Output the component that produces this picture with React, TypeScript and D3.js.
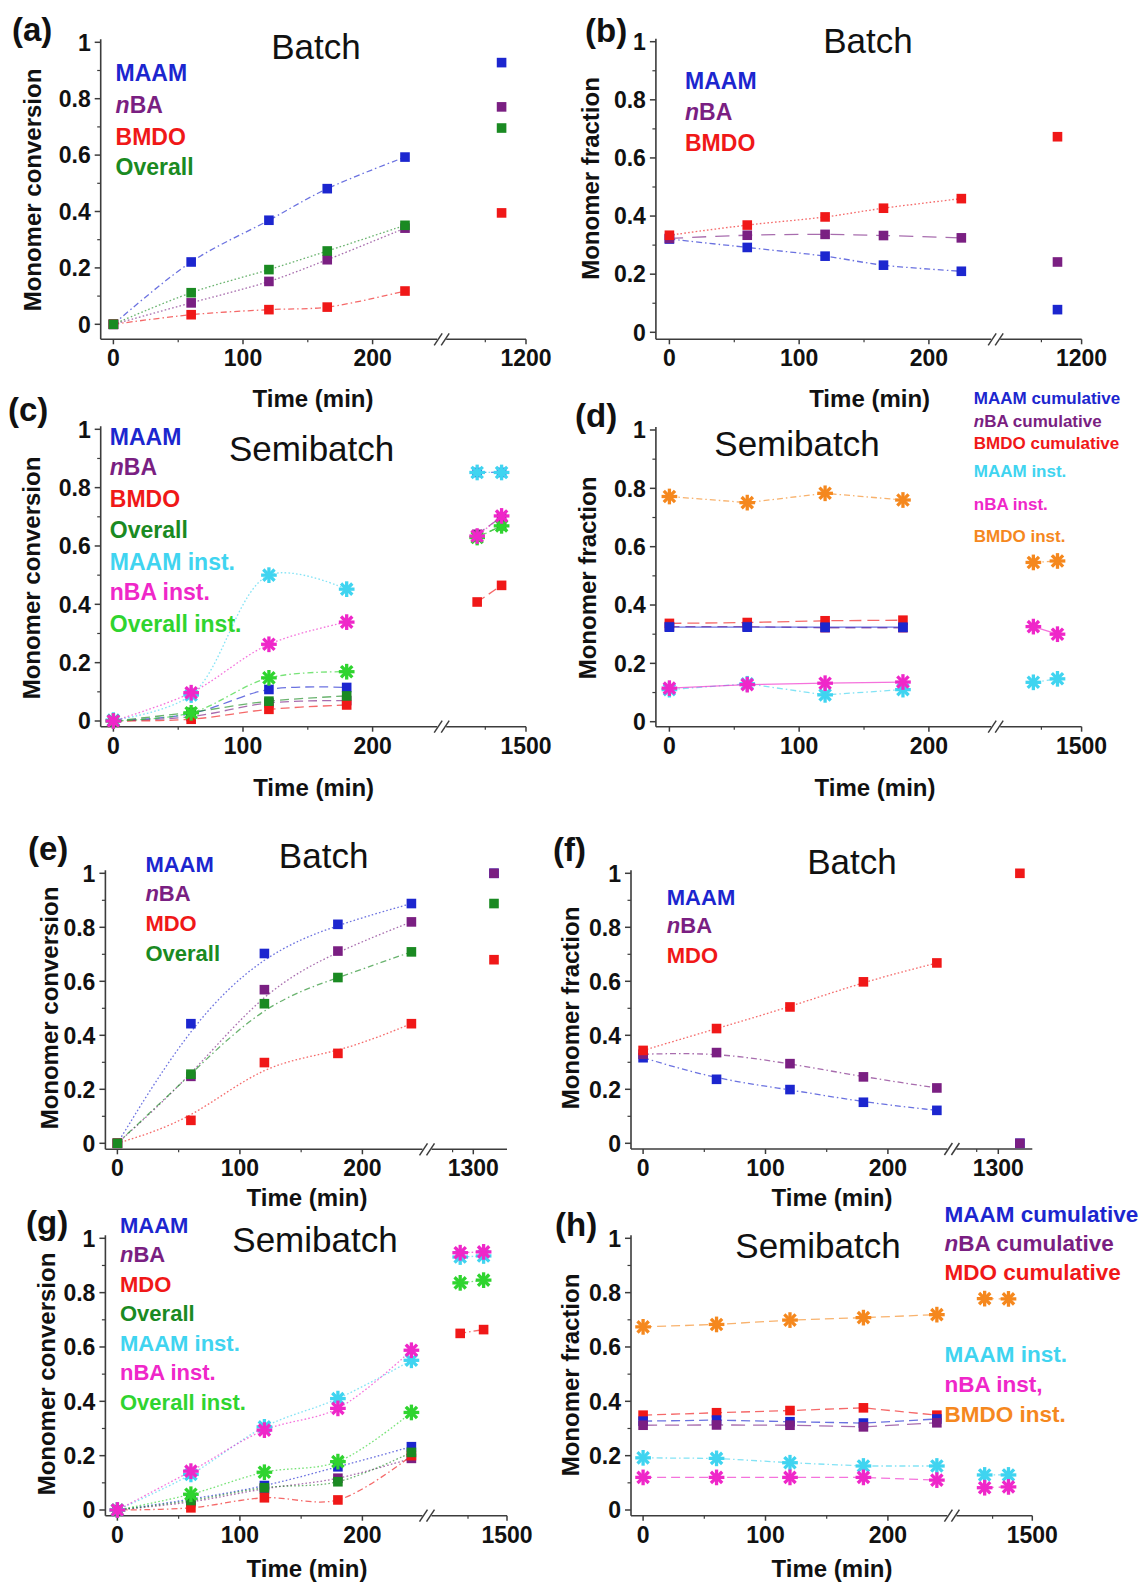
import React from 'react';
import * as d3 from 'd3';

const FONT = "'Liberation Sans', Arial, Helvetica, sans-serif";

const COL = {
  maam: '#1c26cf',
  nba: '#7a1f82',
  bmdo: '#f01818',
  overall: '#1a8a22',
  maamI: '#40d4f0',
  nbaI: '#ef27c9',
  overallI: '#2fd42f',
  bmdoI: '#f5881e',
};

// shared axis ticks
const Y_MAJOR = [0, 0.2, 0.4, 0.6, 0.8, 1];
const Y_MINOR = [0.1, 0.3, 0.5, 0.7, 0.9];
const X_MAJOR = [0, 100, 200];
const X_MINOR = [50, 150];

// (a) batch, conversion, BMDO system
const A_TIME = [0, 60, 120, 165, 225, 1140];
const A_MAAM = [0, 0.221, 0.369, 0.481, 0.593, 0.928];
const A_NBA = [0, 0.076, 0.152, 0.229, 0.341, 0.771];
const A_BMDO = [0, 0.034, 0.052, 0.061, 0.118, 0.395];
const A_OVERALL = [0, 0.112, 0.194, 0.26, 0.351, 0.696];

// (b) batch, fraction, BMDO system
const B_TIME = [0, 60, 120, 165, 225, 1140];
const B_MAAM = [0.321, 0.292, 0.262, 0.231, 0.21, 0.078];
const B_NBA = [0.323, 0.334, 0.337, 0.333, 0.325, 0.242];
const B_BMDO = [0.334, 0.369, 0.397, 0.427, 0.46, 0.673];

// (c) semibatch, conversion, BMDO system
const C_TIME = [0, 60, 120, 180, 1380, 1440];
const C_MAAM = [0, 0.025, 0.108, 0.115, 0.852, 0.852];
const C_NBA = [0, 0.015, 0.062, 0.07, 0.64, 0.7];
const C_BMDO = [0, 0.006, 0.04, 0.055, 0.408, 0.465];
const C_OVERALL = [0, 0.03, 0.068, 0.086, 0.63, 0.669];
const C_MAAM_INST = [0.003, 0.089, 0.5, 0.452, 0.852, 0.852];
const C_NBA_INST = [0, 0.097, 0.263, 0.339, 0.634, 0.703];
const C_OVERALL_INST = [0, 0.028, 0.148, 0.169, 0.629, 0.669];

// (d) semibatch, fraction, BMDO system
const D_TIME = [0, 60, 120, 180, 1380, 1440];
const D_MAAM = [0.324, 0.324, 0.324, 0.324, null, null];
const D_NBA = [0.326, 0.326, 0.322, 0.322, null, null];
const D_BMDO = [0.337, 0.34, 0.346, 0.348, null, null];
const D_MAAM_INST = [0.11, 0.13, 0.092, 0.11, 0.135, 0.147];
const D_NBA_INST = [0.115, 0.127, 0.132, 0.136, 0.326, 0.3];
const D_BMDO_INST = [0.772, 0.751, 0.783, 0.76, 0.546, 0.551];

// (e) batch, conversion, MDO system
const E_TIME = [0, 60, 120, 180, 240, 1350];
const E_MAAM = [0, 0.443, 0.703, 0.811, 0.888, 1.0];
const E_NBA = [0, 0.248, 0.569, 0.712, 0.82, 1.0];
const E_MDO = [0, 0.085, 0.299, 0.333, 0.443, 0.68];
const E_OVERALL = [0, 0.256, 0.517, 0.614, 0.709, 0.888];

// (f) batch, fraction, MDO system
const F_TIME = [0, 60, 120, 180, 240, 1350];
const F_MAAM = [0.317, 0.237, 0.199, 0.152, 0.122, 0];
const F_NBA = [0.33, 0.336, 0.295, 0.246, 0.205, 0];
const F_MDO = [0.344, 0.425, 0.505, 0.598, 0.668, 1.0];

// (g) semibatch, conversion, MDO system
const G_TIME = [0, 60, 120, 180, 240, 1380, 1440];
const G_MAAM = [0, 0.04, 0.09, 0.159, 0.233, null, null];
const G_NBA = [0, 0.03, 0.078, 0.117, 0.19, null, null];
const G_MDO = [0, 0.008, 0.045, 0.037, 0.2, 0.65, 0.664];
const G_OVERALL = [0, 0.035, 0.082, 0.104, 0.212, null, null];
const G_MAAM_INST = [0, 0.131, 0.306, 0.41, 0.551, 0.931, 0.935];
const G_NBA_INST = [0, 0.143, 0.294, 0.374, 0.588, 0.947, 0.95];
const G_OVERALL_INST = [0, 0.058, 0.139, 0.178, 0.359, 0.836, 0.846];

// (h) semibatch, fraction, MDO system
const H_TIME = [0, 60, 120, 180, 240, 1380, 1440];
const H_MAAM = [0.327, 0.331, 0.325, 0.32, 0.335, null, null];
const H_NBA = [0.312, 0.313, 0.312, 0.306, 0.321, null, null];
const H_MDO = [0.349, 0.358, 0.366, 0.376, 0.349, null, null];
const H_MAAM_INST = [0.192, 0.19, 0.174, 0.162, 0.162, 0.129, 0.129];
const H_NBA_INST = [0.12, 0.12, 0.12, 0.12, 0.11, 0.082, 0.085];
const H_BMDO_INST = [0.674, 0.683, 0.699, 0.708, 0.719, 0.778, 0.777];

type Val = number | null;
interface Ser { v: Val[]; c: string; m: 'sq' | 'ast'; dash: string }
interface Leg { t: string; c: string; y: number; italic?: boolean }
interface PanelDef {
  tag: string; tagX: number; tagY: number;
  title: string; titleX: number; titleY: number;
  yLabel: string; yLabelX: number; yLabelY: number;
  xLabelX: number; xLabelY: number;
  axisX: number; yTop: number; yBot: number; axisY: number;
  x0: number; x200: number; breakX: number; endX: number;
  rDom: [number, number]; rPx: [number, number]; rMajor: number[]; rMinor: number[];
  time: number[]; series: Ser[]; curve: d3.CurveFactory;
  legX: number; legSize: number; legend: Leg[];
}

const DOT = '1.6,2.2';
const DASHDOT = '6,3,1.5,3';
const DASH = '9,5';

const PANELS: PanelDef[] = [
  {
    tag: '(a)', tagX: 12, tagY: 41, title: 'Batch', titleX: 316, titleY: 59,
    yLabel: 'Monomer conversion', yLabelX: 41, yLabelY: 190, xLabelX: 313, xLabelY: 407,
    axisX: 100.7, yTop: 42.3, yBot: 324.3, axisY: 339.3, x0: 113.4, x200: 372.6, breakX: 441.7, endX: 526,
    rDom: [1100, 1200], rPx: [485.3, 526], rMajor: [1200], rMinor: [1100],
    time: A_TIME, curve: d3.curveCatmullRom,
    series: [
      { v: A_MAAM, c: COL.maam, m: 'sq', dash: DASHDOT },
      { v: A_NBA, c: COL.nba, m: 'sq', dash: DOT },
      { v: A_BMDO, c: COL.bmdo, m: 'sq', dash: DASHDOT },
      { v: A_OVERALL, c: COL.overall, m: 'sq', dash: DOT },
    ],
    legX: 115.6, legSize: 23,
    legend: [
      { t: 'MAAM', c: COL.maam, y: 81 },
      { t: 'BA', c: COL.nba, y: 113, italic: true },
      { t: 'BMDO', c: COL.bmdo, y: 145 },
      { t: 'Overall', c: COL.overall, y: 175 },
    ],
  },
  {
    tag: '(b)', tagX: 585, tagY: 42, title: 'Batch', titleX: 868, titleY: 53,
    yLabel: 'Monomer fraction', yLabelX: 599, yLabelY: 178.5, xLabelX: 869.6, xLabelY: 407,
    axisX: 655.9, yTop: 41.7, yBot: 332.3, axisY: 339.3, x0: 669.4, x200: 928.9, breakX: 995.7, endX: 1081.6,
    rDom: [1100, 1200], rPx: [1041.4, 1081.6], rMajor: [1200], rMinor: [1100],
    time: B_TIME, curve: d3.curveCatmullRom,
    series: [
      { v: B_MAAM, c: COL.maam, m: 'sq', dash: DASHDOT },
      { v: B_NBA, c: COL.nba, m: 'sq', dash: '14,9' },
      { v: B_BMDO, c: COL.bmdo, m: 'sq', dash: DOT },
    ],
    legX: 685, legSize: 23,
    legend: [
      { t: 'MAAM', c: COL.maam, y: 89 },
      { t: 'BA', c: COL.nba, y: 120, italic: true },
      { t: 'BMDO', c: COL.bmdo, y: 151 },
    ],
  },
  {
    tag: '(c)', tagX: 8, tagY: 421, title: 'Semibatch', titleX: 311.6, titleY: 461,
    yLabel: 'Monomer conversion', yLabelX: 40, yLabelY: 578, xLabelX: 313.6, xLabelY: 796,
    axisX: 100.7, yTop: 429.3, yBot: 721, axisY: 726.7, x0: 113.4, x200: 372.6, breakX: 441.7, endX: 526,
    rDom: [1400, 1500], rPx: [485.3, 526], rMajor: [1500], rMinor: [1400],
    time: C_TIME, curve: d3.curveCatmullRom,
    series: [
      { v: C_MAAM, c: COL.maam, m: 'sq', dash: DASH },
      { v: C_NBA, c: COL.nba, m: 'sq', dash: DASH },
      { v: C_BMDO, c: COL.bmdo, m: 'sq', dash: DASH },
      { v: C_OVERALL, c: COL.overall, m: 'sq', dash: DASH },
      { v: C_MAAM_INST, c: COL.maamI, m: 'ast', dash: DOT },
      { v: C_OVERALL_INST, c: COL.overallI, m: 'ast', dash: DASHDOT },
      { v: C_NBA_INST, c: COL.nbaI, m: 'ast', dash: DOT },
    ],
    legX: 109.8, legSize: 23,
    legend: [
      { t: 'MAAM', c: COL.maam, y: 445 },
      { t: 'BA', c: COL.nba, y: 475, italic: true },
      { t: 'BMDO', c: COL.bmdo, y: 507 },
      { t: 'Overall', c: COL.overall, y: 538 },
      { t: 'MAAM inst.', c: COL.maamI, y: 570 },
      { t: 'nBA inst.', c: COL.nbaI, y: 600 },
      { t: 'Overall inst.', c: COL.overallI, y: 631.7 },
    ],
  },
  {
    tag: '(d)', tagX: 575, tagY: 427, title: 'Semibatch', titleX: 797, titleY: 456,
    yLabel: 'Monomer fraction', yLabelX: 595.5, yLabelY: 578, xLabelX: 875, xLabelY: 796,
    axisX: 655.9, yTop: 430, yBot: 721.7, axisY: 726.7, x0: 669.4, x200: 928.9, breakX: 995.7, endX: 1081.6,
    rDom: [1400, 1500], rPx: [1041.4, 1081.6], rMajor: [1500], rMinor: [1400],
    time: D_TIME, curve: d3.curveLinear,
    series: [
      { v: D_BMDO, c: COL.bmdo, m: 'sq', dash: '12,6' },
      { v: D_NBA, c: COL.nba, m: 'sq', dash: '10,6' },
      { v: D_MAAM, c: COL.maam, m: 'sq', dash: '' },
      { v: D_BMDO_INST, c: COL.bmdoI, m: 'ast', dash: DASHDOT },
      { v: D_MAAM_INST, c: COL.maamI, m: 'ast', dash: DASHDOT },
      { v: D_NBA_INST, c: COL.nbaI, m: 'ast', dash: '' },
    ],
    legX: 973.8, legSize: 17,
    legend: [
      { t: 'MAAM cumulative', c: COL.maam, y: 404 },
      { t: 'BA cumulative', c: COL.nba, y: 426.7, italic: true },
      { t: 'BMDO cumulative', c: COL.bmdo, y: 449 },
      { t: 'MAAM inst.', c: COL.maamI, y: 477 },
      { t: 'nBA inst.', c: COL.nbaI, y: 510 },
      { t: 'BMDO inst.', c: COL.bmdoI, y: 541.7 },
    ],
  },
  {
    tag: '(e)', tagX: 28, tagY: 860, title: 'Batch', titleX: 323.6, titleY: 868,
    yLabel: 'Monomer conversion', yLabelX: 58, yLabelY: 1008, xLabelX: 307, xLabelY: 1206,
    axisX: 105.4, yTop: 873.3, yBot: 1143.3, axisY: 1149.3, x0: 117.4, x200: 362.4, breakX: 427, endX: 507,
    rDom: [1250, 1300], rPx: [452.6, 473.3], rMajor: [1300], rMinor: [1250],
    time: E_TIME, curve: d3.curveBasis,
    series: [
      { v: E_MAAM, c: COL.maam, m: 'sq', dash: DOT },
      { v: E_NBA, c: COL.nba, m: 'sq', dash: DOT },
      { v: E_MDO, c: COL.bmdo, m: 'sq', dash: DOT },
      { v: E_OVERALL, c: COL.overall, m: 'sq', dash: DASHDOT },
    ],
    legX: 145.4, legSize: 22,
    legend: [
      { t: 'MAAM', c: COL.maam, y: 871.7 },
      { t: 'BA', c: COL.nba, y: 901, italic: true },
      { t: 'MDO', c: COL.bmdo, y: 930.7 },
      { t: 'Overall', c: COL.overall, y: 960.7 },
    ],
  },
  {
    tag: '(f)', tagX: 553, tagY: 861, title: 'Batch', titleX: 852, titleY: 874,
    yLabel: 'Monomer fraction', yLabelX: 579, yLabelY: 1008, xLabelX: 832, xLabelY: 1206,
    axisX: 631, yTop: 873.3, yBot: 1143.3, axisY: 1149, x0: 643.1, x200: 887.9, breakX: 951.9, endX: 1032.3,
    rDom: [1250, 1300], rPx: [976.7, 998.3], rMajor: [1300], rMinor: [1250],
    time: F_TIME, curve: d3.curveBasis,
    series: [
      { v: F_MAAM, c: COL.maam, m: 'sq', dash: DASHDOT },
      { v: F_NBA, c: COL.nba, m: 'sq', dash: DASHDOT },
      { v: F_MDO, c: COL.bmdo, m: 'sq', dash: DOT },
    ],
    legX: 666.8, legSize: 22,
    legend: [
      { t: 'MAAM', c: COL.maam, y: 905 },
      { t: 'BA', c: COL.nba, y: 933.3, italic: true },
      { t: 'MDO', c: COL.bmdo, y: 963.3 },
    ],
  },
  {
    tag: '(g)', tagX: 26, tagY: 1234, title: 'Semibatch', titleX: 315, titleY: 1252,
    yLabel: 'Monomer conversion', yLabelX: 54.5, yLabelY: 1374, xLabelX: 307, xLabelY: 1577,
    axisX: 105.4, yTop: 1238.3, yBot: 1510, axisY: 1515.7, x0: 117.4, x200: 362.4, breakX: 427, endX: 507,
    rDom: [1400, 1500], rPx: [468, 507], rMajor: [1500], rMinor: [1400],
    time: G_TIME, curve: d3.curveCatmullRom,
    series: [
      { v: G_MAAM, c: COL.maam, m: 'sq', dash: DOT },
      { v: G_NBA, c: COL.nba, m: 'sq', dash: DOT },
      { v: G_MDO, c: COL.bmdo, m: 'sq', dash: DASHDOT },
      { v: G_OVERALL, c: COL.overall, m: 'sq', dash: DOT },
      { v: G_OVERALL_INST, c: COL.overallI, m: 'ast', dash: DOT },
      { v: G_MAAM_INST, c: COL.maamI, m: 'ast', dash: DOT },
      { v: G_NBA_INST, c: COL.nbaI, m: 'ast', dash: DOT },
    ],
    legX: 120, legSize: 22,
    legend: [
      { t: 'MAAM', c: COL.maam, y: 1232.7 },
      { t: 'BA', c: COL.nba, y: 1261.7, italic: true },
      { t: 'MDO', c: COL.bmdo, y: 1291.7 },
      { t: 'Overall', c: COL.overall, y: 1321 },
      { t: 'MAAM inst.', c: COL.maamI, y: 1351 },
      { t: 'nBA inst.', c: COL.nbaI, y: 1380 },
      { t: 'Overall inst.', c: COL.overallI, y: 1410 },
    ],
  },
  {
    tag: '(h)', tagX: 555, tagY: 1236, title: 'Semibatch', titleX: 818, titleY: 1258,
    yLabel: 'Monomer fraction', yLabelX: 579, yLabelY: 1375, xLabelX: 832, xLabelY: 1577,
    axisX: 631, yTop: 1238.3, yBot: 1510, axisY: 1515.7, x0: 643.1, x200: 887.9, breakX: 951.9, endX: 1032.3,
    rDom: [1400, 1500], rPx: [992.6, 1032.3], rMajor: [1500], rMinor: [1400],
    time: H_TIME, curve: d3.curveLinear,
    series: [
      { v: H_MDO, c: COL.bmdo, m: 'sq', dash: DASH },
      { v: H_MAAM, c: COL.maam, m: 'sq', dash: DASH },
      { v: H_NBA, c: COL.nba, m: 'sq', dash: '14,8' },
      { v: H_BMDO_INST, c: COL.bmdoI, m: 'ast', dash: DASH },
      { v: H_MAAM_INST, c: COL.maamI, m: 'ast', dash: DASHDOT },
      { v: H_NBA_INST, c: COL.nbaI, m: 'ast', dash: DASH },
    ],
    legX: 944.6, legSize: 22.5,
    legend: [
      { t: 'MAAM cumulative', c: COL.maam, y: 1221.7 },
      { t: 'BA cumulative', c: COL.nba, y: 1250.7, italic: true },
      { t: 'MDO cumulative', c: COL.bmdo, y: 1280 },
      { t: 'MAAM inst.', c: COL.maamI, y: 1361.7 },
      { t: 'nBA inst,', c: COL.nbaI, y: 1391.7 },
      { t: 'BMDO inst.', c: COL.bmdoI, y: 1421.7 },
    ],
  },
];

const fmt = d3.format('~g');

function Star({ x, y, c }: { x: number; y: number; c: string }) {
  const r = 6.2;
  const d = r * 0.72;
  return (
    <g stroke={c} strokeWidth={3.3} strokeLinecap="square">
      <line x1={x - r} y1={y} x2={x + r} y2={y} />
      <line x1={x} y1={y - r} x2={x} y2={y + r} />
      <line x1={x - d} y1={y - d} x2={x + d} y2={y + d} />
      <line x1={x - d} y1={y + d} x2={x + d} y2={y - d} />
    </g>
  );
}

function Panel({ p }: { p: PanelDef }) {
  const y = d3.scaleLinear().domain([0, 1]).range([p.yBot, p.yTop]);
  const xl = d3.scaleLinear().domain([0, 200]).range([p.x0, p.x200]);
  const xr = d3.scaleLinear().domain(p.rDom).range(p.rPx);
  const split = 1000;
  const x = (t: number) => (t < split ? xl(t) : xr(t));
  const axisCol = '#3c3c3c';
  const gap = 4.5;
  const mkLine = (curve: d3.CurveFactory) =>
    d3.line<[number, number]>().x((d) => x(d[0])).y((d) => y(d[1])).curve(curve);

  const pts = (s: Ser, right: boolean) =>
    p.time
      .map((t, i) => [t, s.v[i]] as [number, Val])
      .filter(([t, v]) => v != null && (right ? t >= split : t < split)) as [number, number][];

  return (
    <g fontFamily={FONT}>
      {/* axes */}
      <line x1={p.axisX} y1={p.yTop - 3} x2={p.axisX} y2={p.axisY} stroke={axisCol} strokeWidth={1.6} />
      <line x1={p.axisX} y1={p.axisY} x2={p.breakX - gap} y2={p.axisY} stroke={axisCol} strokeWidth={1.6} />
      <line x1={p.breakX + gap} y1={p.axisY} x2={p.endX} y2={p.axisY} stroke={axisCol} strokeWidth={1.6} />
      {[-3.5, 3.5].map((dx) => (
        <line key={dx} x1={p.breakX + dx - 4} y1={p.axisY + 6} x2={p.breakX + dx + 4} y2={p.axisY - 6}
          stroke={axisCol} strokeWidth={1.5} />
      ))}
      {Y_MAJOR.map((v) => (
        <g key={'ym' + v}>
          <line x1={p.axisX - 6} y1={y(v)} x2={p.axisX} y2={y(v)} stroke={axisCol} strokeWidth={1.5} />
          <text x={p.axisX - 10} y={y(v)} dy="0.36em" textAnchor="end" fontSize={23} fontWeight="bold" fill="#111">
            {fmt(v)}
          </text>
        </g>
      ))}
      {Y_MINOR.map((v) => (
        <line key={'yn' + v} x1={p.axisX - 3.5} y1={y(v)} x2={p.axisX} y2={y(v)} stroke={axisCol} strokeWidth={1.2} />
      ))}
      {X_MAJOR.map((t) => (
        <g key={'xm' + t}>
          <line x1={xl(t)} y1={p.axisY} x2={xl(t)} y2={p.axisY + 5} stroke={axisCol} strokeWidth={1.5} />
          <text x={xl(t)} y={p.axisY + 27} textAnchor="middle" fontSize={23} fontWeight="bold" fill="#111">{t}</text>
        </g>
      ))}
      {X_MINOR.map((t) => (
        <line key={'xn' + t} x1={xl(t)} y1={p.axisY} x2={xl(t)} y2={p.axisY + 3} stroke={axisCol} strokeWidth={1.2} />
      ))}
      {p.rMajor.map((t) => (
        <g key={'rm' + t}>
          <line x1={xr(t)} y1={p.axisY} x2={xr(t)} y2={p.axisY + 5} stroke={axisCol} strokeWidth={1.5} />
          <text x={xr(t)} y={p.axisY + 27} textAnchor="middle" fontSize={23} fontWeight="bold" fill="#111">{t}</text>
        </g>
      ))}
      {p.rMinor.map((t) => (
        <line key={'rn' + t} x1={xr(t)} y1={p.axisY} x2={xr(t)} y2={p.axisY + 3} stroke={axisCol} strokeWidth={1.2} />
      ))}

      {/* series lines */}
      {p.series.map((s, i) => {
        const L = pts(s, false);
        const R = pts(s, true);
        return (
          <g key={'l' + i} fill="none" stroke={s.c} strokeWidth={1.3} strokeOpacity={0.65} strokeDasharray={s.dash || undefined}>
            {L.length > 1 && <path d={mkLine(p.curve)(L) || ''} />}
            {R.length > 1 && <path d={mkLine(d3.curveLinear)(R) || ''} />}
          </g>
        );
      })}
      {/* markers */}
      {p.series.map((s, i) =>
        p.time.map((t, j) => {
          const v = s.v[j];
          if (v == null) return null;
          return s.m === 'sq' ? (
            <rect key={`m${i}-${j}`} x={x(t) - 4.8} y={y(v) - 4.8} width={9.6} height={9.6} fill={s.c} />
          ) : (
            <Star key={`m${i}-${j}`} x={x(t)} y={y(v)} c={s.c} />
          );
        })
      )}

      {/* legend */}
      {p.legend.map((l) => (
        <text key={l.t + l.y} x={p.legX} y={l.y} fontSize={p.legSize} fontWeight="bold" fill={l.c}>
          {l.italic && <tspan fontStyle="italic">n</tspan>}
          {l.t}
        </text>
      ))}

      {/* titles and labels */}
      <text x={p.titleX} y={p.titleY} textAnchor="middle" fontSize={35} fill="#111">{p.title}</text>
      <text x={p.tagX} y={p.tagY} fontSize={33} fontWeight="bold" fill="#111">{p.tag}</text>
      <text x={p.xLabelX} y={p.xLabelY} textAnchor="middle" fontSize={24} fontWeight="bold" fill="#111">Time (min)</text>
      <text transform={`translate(${p.yLabelX},${p.yLabelY}) rotate(-90)`} textAnchor="middle" fontSize={24}
        fontWeight="bold" fill="#111">{p.yLabel}</text>
    </g>
  );
}

export default function App() {
  return (
    <svg width={1143} height={1582} viewBox="0 0 1143 1582"
      style={{ position: 'absolute', left: 0, top: 0, background: '#fff' }}>
      <rect width={1143} height={1582} fill="#fff" />
      {PANELS.map((p) => (
        <Panel key={p.tag} p={p} />
      ))}
    </svg>
  );
}
